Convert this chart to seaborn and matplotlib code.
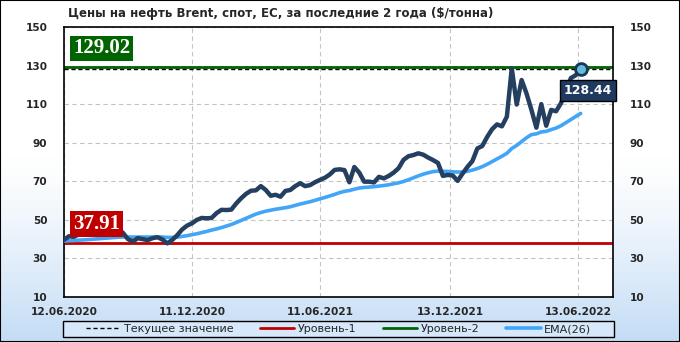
# Brent spot price, weekly, with EMA(26) and level lines.
import numpy as np
import pandas as pd
import seaborn as sns
import matplotlib
matplotlib.use('Agg')
import matplotlib.pyplot as plt
import matplotlib.dates as mdates
from matplotlib.colors import LinearSegmentedColormap
from matplotlib.patches import Rectangle

title = "Цены на нефть Brent, спот, ЕС, за последние 2 года ($/тонна)"
start_date = "2020-06-12"

prices = [
    39.6, 41.5, 41.2, 42.5, 43.0, 43.2, 43.3, 43.4, 44.3, 44.8,
    44.4, 45.5, 43.2, 40.0, 38.8, 40.5, 40.0, 39.5, 40.5, 41.0,
    39.8, 37.8, 39.6, 42.0, 45.0, 47.0, 48.2, 50.0, 51.0, 50.8,
    51.0, 53.5, 55.2, 55.1, 55.3, 58.5, 61.2, 63.5, 65.1, 65.3,
    67.5, 65.5, 62.5, 63.0, 62.0, 65.0, 65.5, 67.5, 69.0, 67.5,
    68.0, 69.5, 70.7, 71.8, 73.5, 75.9, 76.2, 75.8, 69.5, 77.4,
    74.5, 69.8, 69.8, 69.4, 72.3, 71.5, 72.8, 74.5, 76.8, 81.1,
    83.0, 83.6, 84.5, 83.8, 82.3, 81.0, 79.5, 72.8, 73.3, 73.0,
    70.2, 74.0, 77.5, 80.5, 87.0, 88.3, 93.0, 97.0, 99.5, 98.5,
    103.5, 128.6, 109.8, 122.5, 115.5, 107.0, 97.8, 110.0, 98.8, 107.0,
    106.3, 110.5, 116.0, 123.5, 125.0, 128.44,
]

ema26 = [
    39.0, 39.2, 39.3, 39.5, 39.6, 39.8, 40.0, 40.2, 40.4, 40.6,
    40.8, 41.0, 41.1, 41.1, 41.1, 41.1, 41.1, 41.1, 41.1, 41.1,
    41.1, 40.9, 40.9, 41.0, 41.4, 41.8, 42.3, 42.8, 43.4, 44.0,
    44.7, 45.3, 46.0, 46.8, 47.6, 48.6, 49.7, 50.8, 51.9, 53.0,
    53.8, 54.5, 55.0, 55.5, 55.9, 56.3, 56.8, 57.5, 58.2, 58.8,
    59.4, 60.1, 60.9, 61.6, 62.4, 63.2, 64.1, 64.8, 65.2, 65.9,
    66.5, 66.8, 67.0, 67.2, 67.5, 67.8, 68.2, 68.7, 69.2, 69.9,
    70.8, 71.8, 72.8, 73.7, 74.4, 75.0, 75.3, 75.2, 75.1, 74.9,
    74.8, 74.8, 75.2, 75.8, 76.6, 77.6, 78.8, 80.2, 81.6, 83.0,
    84.5, 87.0, 88.6, 90.6, 92.6, 94.2, 94.6, 95.6, 95.9, 96.8,
    97.6, 98.8, 100.4, 102.0, 103.6, 105.2,
]

level_1 = 37.91
level_2 = 129.02
current_value = 128.44

tick_dates = ["2020-06-12", "2020-12-11", "2021-06-11", "2021-12-13", "2022-06-13"]
y_ticks = [10, 30, 50, 70, 90, 110, 130, 150]
legend_labels = ["Текущее значение", "Уровень-1", "Уровень-2", "EMA(26)"]

dates = pd.date_range(start_date, periods=len(prices), freq="7D")
df = pd.DataFrame({"date": dates, "price": prices, "ema": ema26})

sns.set_style("white")
plt.rcParams["font.family"] = ["DejaVu Sans"]
plt.rcParams["font.weight"] = "bold"

W, H = 680, 342
fig = plt.figure(figsize=(W / 100, H / 100), dpi=100)

# background gradient (white -> light blue at the bottom) and outer border
bg = fig.add_axes([0, 0, 1, 1])
bg.set_zorder(-5)
frac = np.linspace(0, 1, H)
t = np.clip((frac - 0.45) / 0.55, 0, 1) ** 1.3
cmap_bg = LinearSegmentedColormap.from_list("bg", ["#ffffff", "#c3dcf5"])
bg.imshow(t[:, None], cmap=cmap_bg, vmin=0, vmax=1, aspect="auto",
          extent=[0, 1, 0, 1], origin="upper")
bg.set_xlim(0, 1)
bg.set_ylim(0, 1)
bg.set_xticks([])
bg.set_yticks([])
for s in bg.spines.values():
    s.set_color("black")
    s.set_linewidth(1.5)
# legend frame, drawn separately so the entries can sit centred inside it
bg.add_patch(Rectangle((63 / W, 1 - 337 / H), 551 / W, 16 / H,
                       fc="#d6e8fa", ec="black", lw=1, zorder=3))

ax = fig.add_axes([64 / W, 1 - 297 / H, 549 / W, 270 / H])
ax.set_facecolor("white")

h2 = ax.axhline(level_2, color="#006400", lw=2, zorder=2)
hc = ax.axhline(current_value, color="black", lw=1, ls=(0, (3, 2)), zorder=2.5)
h1 = ax.axhline(level_1, color="#c00000", lw=2, zorder=2)

sns.lineplot(data=df, x="date", y="ema", ax=ax, color="#42a5f5", lw=2.6,
             zorder=3, label="EMA(26)")
sns.lineplot(data=df, x="date", y="price", ax=ax, color="#243f60", lw=3.2,
             zorder=4, legend=False)
hema = ax.lines[-2]
if ax.get_legend() is not None:
    ax.get_legend().remove()

# last point marker and value box
ax.plot([dates[-1]], [prices[-1]], "o", ms=8.5, mfc="#63bcd8", mec="#17375e",
        mew=2, zorder=6)
ax.annotate(f"{current_value:.2f}", xy=(dates[-1], prices[-1]),
            xytext=(-17, -22), textcoords="offset pixels", ha="left", va="center",
            color="white", fontsize=9, fontweight="bold", zorder=7,
            annotation_clip=False,
            bbox=dict(boxstyle="square,pad=0.3", fc="#1f3a5f", ec="black", lw=1))

# level labels
tr = ax.get_yaxis_transform()
for val, col in [(level_2, "#006400"), (level_1, "#c00000")]:
    ax.annotate(f"{val:.2f}", xy=(0.017, val), xycoords=tr,
                xytext=(0, 9), textcoords="offset pixels", ha="left", va="bottom",
                color="white", fontsize=15, fontweight="bold",
                family="Liberation Serif", zorder=7,
                bbox=dict(boxstyle="square,pad=0.14", fc=col, ec="none"))

ax.set_xlim(pd.Timestamp("2020-06-12"), pd.Timestamp("2022-08-02"))
ax.set_ylim(10, 150)
ax.set_xticks(pd.to_datetime(tick_dates))
ax.xaxis.set_major_formatter(mdates.DateFormatter("%d.%m.%Y"))
ax.set_yticks(y_ticks)
ax.tick_params(axis="both", length=0, labelsize=7.6)
ax.tick_params(axis="y", labelright=True, pad=12)
ax.tick_params(axis="x", pad=7)
ax.set_xlabel("")
ax.set_ylabel("")
ax.grid(True, ls=(0, (4, 3)), color="#c4c4c4", lw=0.8)
for s in ax.spines.values():
    s.set_color("black")
    s.set_linewidth(1.2)

fig.text(68 / W, 1 - 13 / H, title, fontsize=8.5, fontweight="bold",
         va="center", ha="left")

fig.legend(handles=[hc, h1, h2, hema], labels=legend_labels, loc="center",
           bbox_to_anchor=(338.5 / W, 1 - 329 / H), ncol=4, frameon=False,
           prop={"weight": "normal", "size": 8}, handlelength=3.1,
           handletextpad=0.3, columnspacing=2.4, borderaxespad=0, borderpad=0)

fig.savefig("out.png", dpi=100)
